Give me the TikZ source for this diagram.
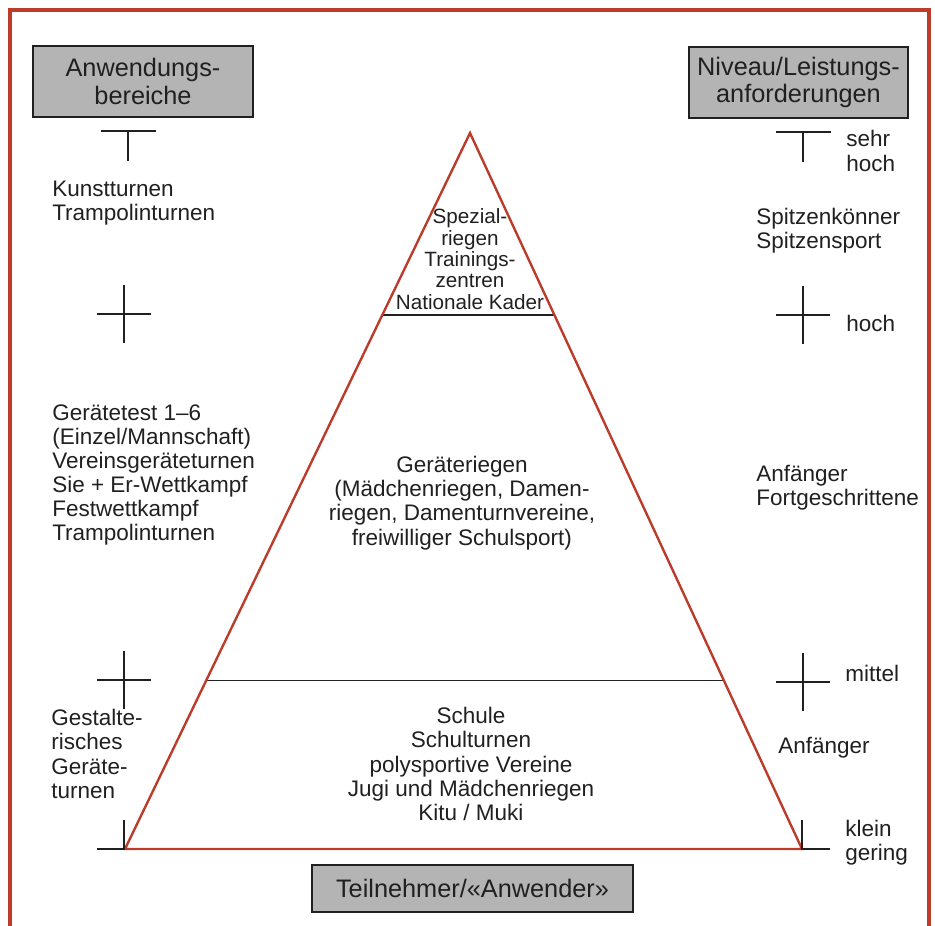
\documentclass[tikz,border=0pt]{standalone}
\usepackage{fontspec}
\setmainfont{Liberation Sans}
\usepackage{tikz}
\usetikzlibrary{calc}
\definecolor{FrameRed}{RGB}{188,60,44}
\definecolor{BoxGray}{RGB}{180,180,180}
\definecolor{InkColor}{RGB}{32,32,32}
\tikzstyle{headbox} = [draw=InkColor, fill=BoxGray, line width=1.1pt, inner sep=0pt, align=center, text=InkColor, font=\fontsize{18}{19.5}\selectfont]
\tikzstyle{sidetext} = [anchor=west, align=left, inner sep=0pt, text=InkColor, font=\fontsize{16}{17.2}\selectfont]
\tikzstyle{midtext} = [align=center, inner sep=0pt, text=InkColor, font=\fontsize{16}{17.2}\selectfont]
\tikzstyle{scalemark} = [line width=1pt, InkColor]
\tikzstyle{divline} = [line width=1pt, InkColor]
\tikzstyle{redline} = [line width=1.7pt, FrameRed]

\begin{document}
\begin{tikzpicture}[x=0.025cm, y=-0.025cm]
            \useasboundingbox (0,0) rectangle (935,926);
            \clip (0,0) rectangle (935,926);
            \draw[FrameRed, line width=2.2pt] (10,940) -- (10,10) -- (929,10) -- (929,940);

            % Pyramide
            \coordinate (apex) at (470,133);
            \coordinate (baseL) at (125,849);
            \coordinate (baseR) at (802,849);
            \draw[divline] ($(apex)!0.254!(baseL)$) -- ($(apex)!0.254!(baseR)$);
            \draw[divline] ($(apex)!0.765!(baseL)$) -- ($(apex)!0.765!(baseR)$);
            \draw[redline] (apex) -- (baseR) -- (baseL) -- cycle;

            \node[midtext, font=\fontsize{14.7}{15.2}\selectfont] (spezial) at (470,259) {Spezial-\\riegen\\Trainings-\\zentren\\Nationale Kader};
            \node[midtext] (geraeteriegen) at (462,503) {Geräteriegen\\(Mädchenriegen, Damen-\\riegen, Damenturnvereine,\\freiwilliger Schulsport)};
            \node[midtext] (schule) at (471,764) {Schule\\Schulturnen\\polysportive Vereine\\Jugi und Mädchenriegen\\Kitu / Muki};

            % Kopfboxen
            \node[headbox, minimum width=5.5cm, minimum height=1.775cm] (anwbox) at (143,81.5) {Anwendungs-\\bereiche};
            \node[headbox, minimum width=5.475cm, minimum height=1.775cm] (nivbox) at (798.5,82.5) {Niveau/Leistungs-\\anforderungen};
            \node[headbox, minimum width=8.025cm, minimum height=1.175cm] (teilbox) at (472.5,888.5) {Teilnehmer/«Anwender»};

            % Skalen
            \draw[scalemark] (101,131) -- (156,131) (128,131) -- (128,161);
            \draw[scalemark] (776,132) -- (831,132) (803,132) -- (803,162);
            \foreach \x/\y in {124/314, 124/680, 803/315, 803/682} {
                \draw[scalemark] (\x-27,\y) -- (\x+27,\y) (\x,\y-29) -- (\x,\y+29);
            }
            \draw[scalemark] (124,820) -- (124,849) -- (97,849);
            \draw[scalemark] (802,820) -- (802,849) -- (830,849);

            \node[sidetext] (kunst) at (52,203) {Kunstturnen\\Trampolinturnen};
            \node[sidetext] (geraetetest) at (52,475) {Gerätetest 1–6\\(Einzel/Mannschaft)\\Vereinsgeräteturnen\\Sie + Er-Wettkampf\\Festwettkampf\\Trampolinturnen};
            \node[sidetext] (gestalt) at (51,754) {Gestalte-\\risches\\Geräte-\\turnen};

            \node[sidetext] (sehrhoch) at (846,151) {sehr\\hoch};
            \node[sidetext] (spitzen) at (756,231) {Spitzenkönner\\Spitzensport};
            \node[sidetext] (hoch) at (846,323) {hoch};
            \node[sidetext] (anffort) at (756,488) {Anfänger\\Fortgeschrittene};
            \node[sidetext] (mittel) at (845,673) {mittel};
            \node[sidetext] (anfaenger) at (778,748) {Anfänger};
            \node[sidetext] (klein) at (845,843) {klein\\gering};
        \end{tikzpicture}
\end{document}
